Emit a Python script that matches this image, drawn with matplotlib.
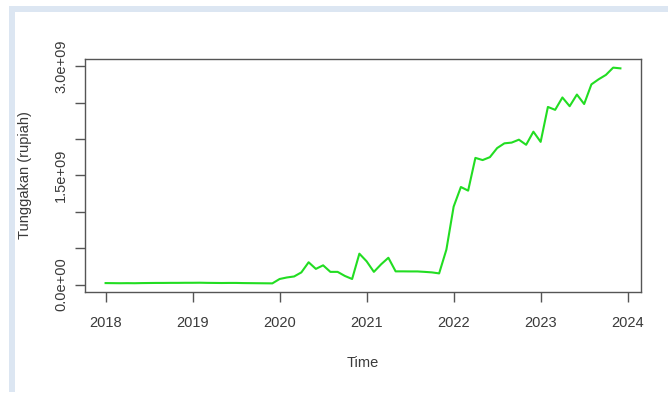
import numpy as np
import matplotlib.pyplot as plt
from matplotlib.patches import Rectangle

plt.rcParams['font.family'] = ['Liberation Sans', 'DejaVu Sans']

# tunggakan bulanan (rupiah), Jan 2018 - Des 2023
y2018 = [2.0e7, 1.9e7, 1.8e7, 1.9e7, 1.8e7, 2.0e7, 2.1e7, 2.2e7, 2.2e7, 2.3e7, 2.3e7, 2.4e7]
y2019 = [2.4e7, 2.5e7, 2.3e7, 2.2e7, 2.1e7, 2.2e7, 2.2e7, 2.0e7, 1.9e7, 1.8e7, 1.7e7, 1.6e7]
y2020 = [7.6e7, 9.7e7, 1.11e8, 1.67e8, 3.06e8, 2.15e8, 2.64e8, 1.74e8, 1.74e8, 1.18e8, 7.6e7, 4.24e8]
y2021 = [3.19e8, 1.74e8, 2.78e8, 3.68e8, 1.81e8, 1.81e8, 1.80e8, 1.80e8, 1.74e8, 1.67e8, 1.53e8, 4.8e8]
y2022 = [1.07e9, 1.34e9, 1.29e9, 1.74e9, 1.71e9, 1.75e9, 1.875e9, 1.94e9, 1.95e9, 1.99e9, 1.92e9, 2.10e9]
y2023 = [1.96e9, 2.44e9, 2.40e9, 2.57e9, 2.45e9, 2.61e9, 2.48e9, 2.75e9, 2.82e9, 2.88e9, 2.98e9, 2.97e9]

tahun = [2018, 2019, 2020, 2021, 2022, 2023, 2024]
yticks = [0, 5e8, 1e9, 1.5e9, 2e9, 2.5e9, 3e9]
ylabels = ['0.0e+00', '', '', '1.5e+09', '', '', '3.0e+09']

y = np.array(y2018 + y2019 + y2020 + y2021 + y2022 + y2023)
t = 2018 + np.arange(len(y)) / 12  # deret waktu bulanan

fig = plt.figure(figsize=(6.68, 3.94), dpi=100)

# bingkai biru muda di kiri dan atas
fig.patches.append(Rectangle((9 / 668, 2 / 394), 6 / 668, 1 - 8 / 394, transform=fig.transFigure,
                             facecolor='#dce6f2', edgecolor='none'))
fig.patches.append(Rectangle((9 / 668, 1 - 12 / 394), 1, 6 / 394, transform=fig.transFigure,
                             facecolor='#dce6f2', edgecolor='none'))

ax = fig.add_axes([85 / 668, 1 - 292 / 394, 556 / 668, 233 / 394])
ax.plot(t, y, color='#22dd22', lw=1.5)
ax.margins(x=0.04, y=0.04)

txt = '#3a3a3a'
for s in ax.spines.values():
    s.set_color('#555555')
    s.set_linewidth(1.0)

ax.set_xticks(tahun)
ax.set_xticklabels([str(v) for v in tahun])
ax.set_yticks(yticks)
ax.set_yticklabels(ylabels, rotation=90, va='center')
ax.tick_params(axis='both', direction='out', length=7, width=1.0, color='#555555',
               labelcolor=txt, labelsize=10.5)
ax.tick_params(axis='x', pad=10)
ax.tick_params(axis='y', pad=5)

ax.set_xlabel('Time', color=txt, fontsize=10.5)
ax.xaxis.set_label_coords(0.5, -(356 - 292) / 233)
ax.set_ylabel('Tunggakan (rupiah)', color=txt, fontsize=10.5)
ax.yaxis.set_label_coords(-(85 - 32) / 556, 0.5)

fig.savefig('out.png', dpi=100)
